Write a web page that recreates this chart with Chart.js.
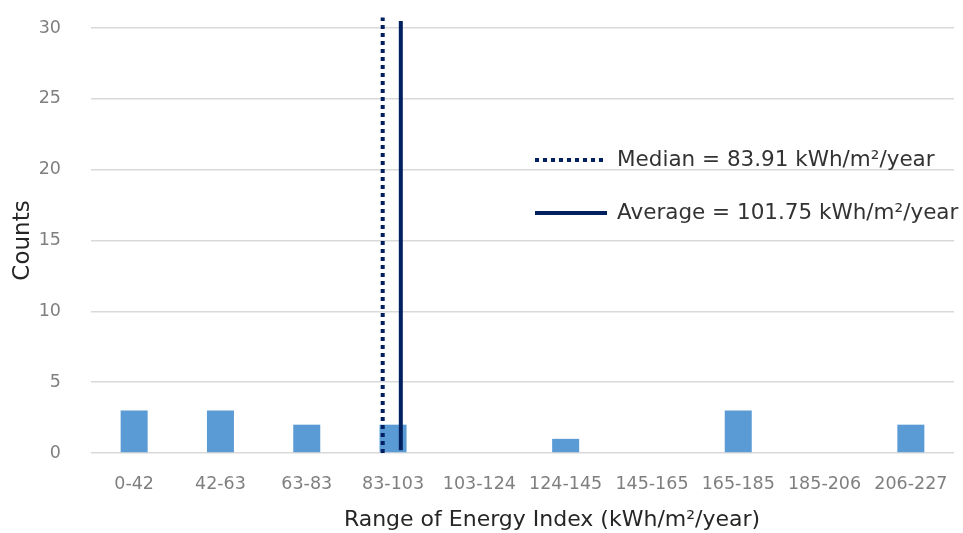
<!DOCTYPE html>
<html>
<head>
<meta charset="utf-8">
<script src="https://cdn.jsdelivr.net/npm/chart.js@4"></script>
<style>
  html, body { margin: 0; padding: 0; background: #fff; }
  #wrap { width: 963px; height: 533px; }
</style>
</head>
<body>
<div id="wrap"><canvas id="histChart" width="963" height="533"></canvas></div>
<script>
// energy index ranges (kWh/m2/year) and counts per range
const ranges = ['0-42', '42-63', '63-83', '83-103', '103-124', '124-145', '145-165', '165-185', '185-206', '206-227'];
const counts = [3, 3, 2, 2, 0, 1, 0, 3, 0, 2];

// vertical marker lines, x in category-index units
const medianLine = [{x: 2.88, y: 0}, {x: 2.88, y: 30.75}];
const averageLine = [{x: 3.09, y: 0.2}, {x: 3.09, y: 30.5}];

const yTicks = [0, 5, 10, 15, 20, 25, 30];

const FONT = 'DejaVu Sans';

// legend + x title drawn by hand so they sit where excel put them
const customLegend = {
  id: 'customLegend',
  afterDraw(chart) {
    const ctx = chart.ctx;
    const rows = [
      {ds: chart.data.datasets[1], y: 160},
      {ds: chart.data.datasets[2], y: 213}
    ];
    ctx.save();
    rows.forEach(r => {
      ctx.beginPath();
      ctx.strokeStyle = r.ds.borderColor;
      ctx.lineWidth = r.ds.borderWidth;
      ctx.setLineDash(r.ds.borderDash || []);
      ctx.moveTo(535, r.y);
      ctx.lineTo(607, r.y);
      ctx.stroke();
      ctx.setLineDash([]);
      ctx.fillStyle = '#333333';
      ctx.font = '21.5px "' + FONT + '"';
      ctx.textAlign = 'left';
      ctx.textBaseline = 'middle';
      ctx.fillText(r.ds.label, 617, r.y);
    });
    ctx.fillStyle = '#262626';
    ctx.font = '22px "' + FONT + '"';
    ctx.textAlign = 'center';
    ctx.textBaseline = 'middle';
    ctx.fillText('Range of Energy Index (kWh/m²/year)', 552, 520);
    ctx.restore();
  }
};

const ctx = document.querySelector('#histChart').getContext('2d');
const histChart = new Chart(ctx, {
  data: {
    labels: ranges,
    datasets: [{
      type: 'bar',
      label: 'Counts',
      data: counts,
      backgroundColor: '#5b9bd5',
      barPercentage: 0.313,
      categoryPercentage: 1.0,
      grouped: false,
      order: 2
    }, {
      type: 'line',
      label: 'Median = 83.91 kWh/m²/year',
      data: medianLine,
      xAxisID: 'xl',
      borderColor: '#002060',
      borderWidth: 4,
      borderDash: [4, 4],
      pointRadius: 0,
      clip: false,
      order: 1
    }, {
      type: 'line',
      label: 'Average = 101.75 kWh/m²/year',
      data: averageLine,
      xAxisID: 'xl',
      borderColor: '#002060',
      borderWidth: 4,
      pointRadius: 0,
      clip: false,
      order: 0
    }]
  },
  options: {
    responsive: false,
    animation: false,
    layout: {
      padding: {top: 28, right: 9, left: 0, bottom: 0}
    },
    plugins: {
      legend: {display: false},
      tooltip: {enabled: false}
    },
    scales: {
      x: {
        type: 'category',
        grid: {display: false},
        border: {display: false},
        ticks: {
          color: '#7f7f7f',
          font: {family: FONT, size: 17.5},
          padding: 13,
          maxRotation: 0,
          autoSkip: false
        },
        afterFit(scale) {
          scale.height = 80;
          scale.paddingLeft = 0;
          scale.paddingRight = 0;
        }
      },
      xl: {
        type: 'linear',
        display: false,
        min: -0.5,
        max: 9.5
      },
      y: {
        min: 0,
        max: 30,
        afterBuildTicks(scale) { scale.ticks = yTicks.map(v => ({value: v})); },
        grid: {color: '#d9d9d9', lineWidth: 1.5, drawTicks: false},
        border: {display: false},
        ticks: {
          color: '#7f7f7f',
          font: {family: FONT, size: 17.5},
          padding: 30
        },
        title: {
          display: true,
          text: 'Counts',
          color: '#262626',
          font: {family: FONT, size: 23},
          padding: {top: 9, bottom: 0}
        },
        afterFit(scale) {
          scale.width = 91;
          // tick padding gets added to top/bottom too, drop it
          scale.paddingTop = 0;
          scale.paddingBottom = 0;
        }
      }
    }
  },
  plugins: [customLegend]
});
</script>
</body>
</html>
